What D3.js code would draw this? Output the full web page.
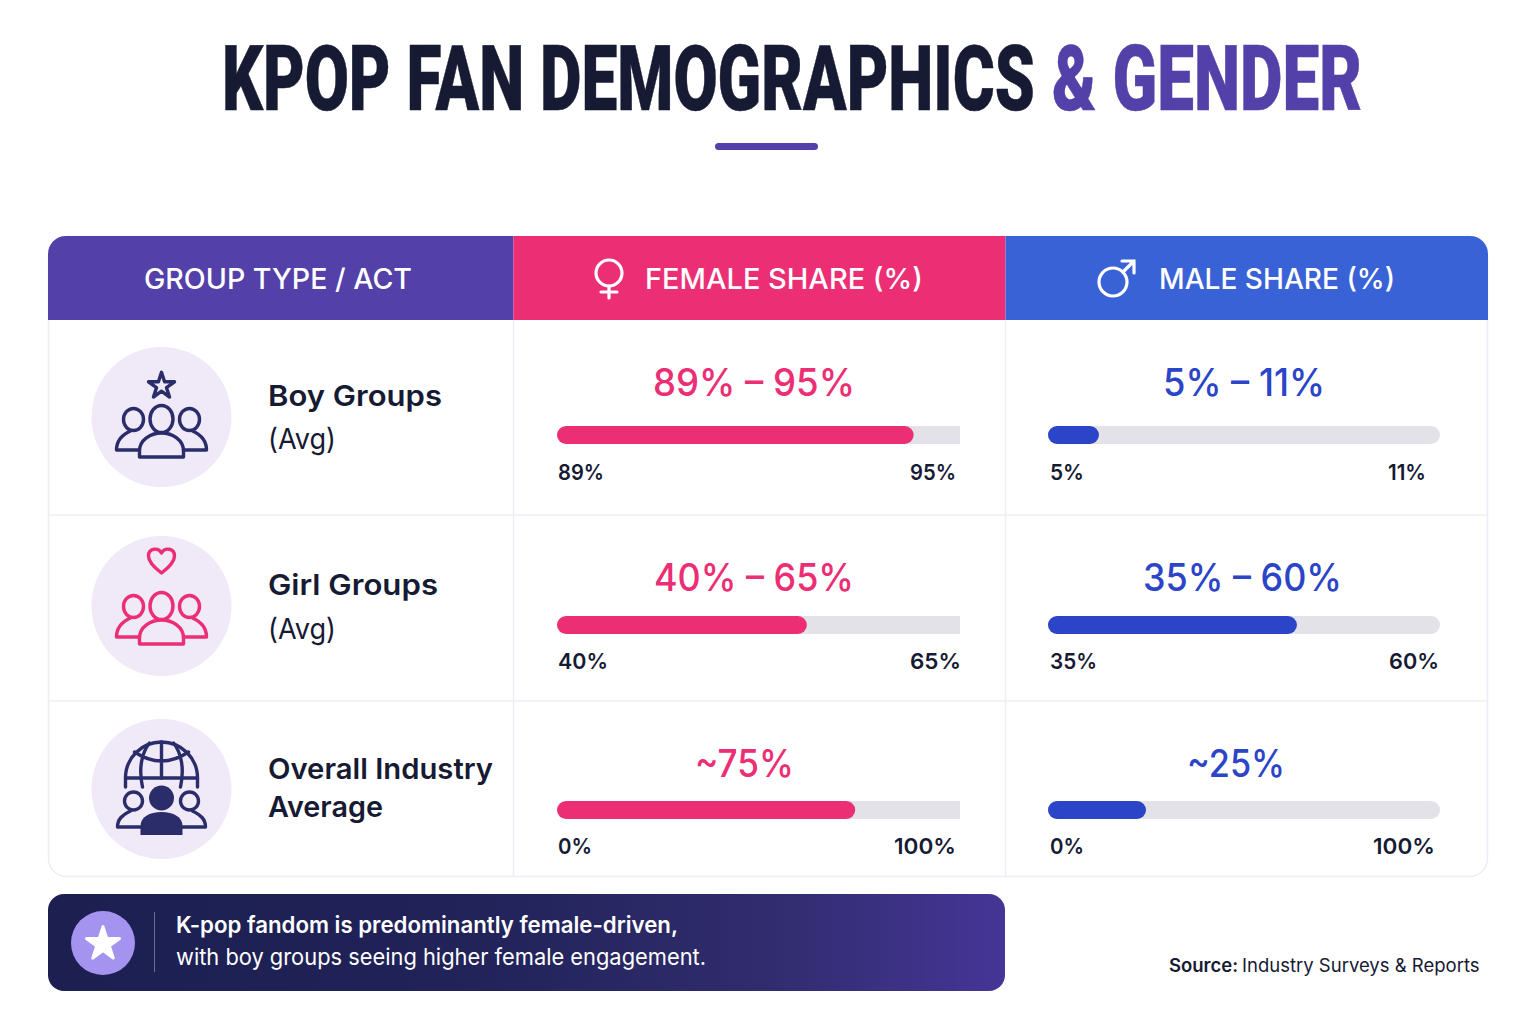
<!DOCTYPE html>
<html>
<head>
<meta charset="utf-8">
<script src="https://cdn.jsdelivr.net/npm/d3@7"></script>
<style>
  html, body { margin: 0; background: #fff; overflow: hidden; }
  text { font-family: Inter, "Noto Sans", sans-serif; }
</style>
</head>
<body>
<div id="chart"></div>
<script>
// data
const rowNames = [["Boy Groups", "(Avg)"], ["Girl Groups", "(Avg)"], ["Overall Industry", "Average"]];
const femaleLabels = ["89% – 95%", "40% – 65%", "~75%"];
const maleLabels = ["5% – 11%", "35% – 60%", "~25%"];
const femaleFill = [88.5, 62, 74];
const maleFill = [13, 63.5, 25];
const femaleTicks = [["89%", "95%"], ["40%", "65%"], ["0%", "100%"]];
const maleTicks = [["5%", "11%"], ["35%", "60%"], ["0%", "100%"]];
const headers = ["GROUP TYPE / ACT", "FEMALE SHARE (%)", "MALE SHARE (%)"];

// colours
const ink = "#161a33";
const purple = "#5340a8";
const pink = "#ec2e74";
const headerBlue = "#3a62d7";
const blue = "#2b44c8";
const track = "#e3e2e8";
const line = "#eeecf4";
const iconInk = "#2b2d6b";

// layout
const tableLeft = 48, tableRight = 1488, tableTop = 236, tableBottom = 877, headerBottom = 320;
const col1 = 513.5, col2 = 1005.5;
const rowLines = [515, 701];
const iconY = [417, 606, 789];
const nameY = [[406, 449], [595, 639], [779, 817]];
const nameW = [[174, 68], [170, 68], [225, 115]];
const valueY = [396, 591, 777];
const barY = [426, 616, 801];
const tickY = [480, 669, 854];
const barH = 18;
const femaleX = [653, 654, 695];
const femaleW = [202, 200, 99];
const maleX = [1163, 1143, 1187];
const maleW = [162, 199, 98];
const femaleTickW = [[46, 46], [50, 51], [34, 62]];
const maleTickW = [[34, 38], [47, 50], [34, 62]];
const femaleTickEnd = [956, 961, 956];
const maleTickEnd = [1426, 1439, 1435];

const xFemale = d3.scaleLinear().domain([0, 100]).range([557, 960]);
const xMale = d3.scaleLinear().domain([0, 100]).range([1048, 1440]);

const svg = d3.select("#chart").append("svg").attr("width", 1536).attr("height", 1024);
const defs = svg.append("defs");

// stretch a text to the width it has in the picture
function fit(sel, w) {
  sel.attr("textLength", w).attr("lengthAdjust", "spacingAndGlyphs");
}

// title, squeezed with a transform so it looks condensed
function titlePart(str, x, w, color) {
  const t = svg.append("text").attr("y", 0).attr("fill", color).attr("stroke", color).attr("stroke-width", 0.5)
    .attr("font-size", 90.5).attr("font-weight", 900)
    .style("font-family", "Roboto").text(str);
  const len = t.node().getComputedTextLength();
  t.attr("transform", `translate(${x},110) scale(${w / len},1)`);
}
titlePart("KPOP FAN DEMOGRAPHICS", 222, 813, ink);
titlePart("& GENDER", 1052, 310, purple);
svg.append("rect").attr("x", 715).attr("y", 143).attr("width", 103).attr("height", 7)
  .attr("rx", 3.5).attr("fill", purple);

// table
defs.append("clipPath").attr("id", "tableClip").append("rect")
  .attr("x", tableLeft).attr("y", tableTop)
  .attr("width", tableRight - tableLeft).attr("height", tableBottom - tableTop).attr("rx", 18);

svg.append("rect").attr("x", tableLeft + 0.5).attr("y", tableTop + 0.5)
  .attr("width", tableRight - tableLeft - 1).attr("height", tableBottom - tableTop - 1)
  .attr("rx", 18).attr("fill", "none").attr("stroke", line).attr("stroke-width", 1.5);

const table = svg.append("g").attr("clip-path", "url(#tableClip)");
table.append("rect").attr("x", tableLeft).attr("y", tableTop)
  .attr("width", col1 - tableLeft).attr("height", headerBottom - tableTop).attr("fill", purple);
table.append("rect").attr("x", col1).attr("y", tableTop)
  .attr("width", col2 - col1).attr("height", headerBottom - tableTop).attr("fill", pink);
table.append("rect").attr("x", col2).attr("y", tableTop)
  .attr("width", tableRight - col2).attr("height", headerBottom - tableTop).attr("fill", headerBlue);

[col1, col2].forEach((x) => {
  svg.append("line").attr("x1", x).attr("x2", x).attr("y1", headerBottom).attr("y2", tableBottom)
    .attr("stroke", line).attr("stroke-width", 1.5);
});
rowLines.forEach((y) => {
  svg.append("line").attr("x1", tableLeft).attr("x2", tableRight).attr("y1", y).attr("y2", y)
    .attr("stroke", line).attr("stroke-width", 1.5);
});

// header texts
const headerX = [144, 645, 1159];
const headerW = [268, 278, 236];
headers.forEach((h, i) => {
  svg.append("text").attr("x", headerX[i]).attr("y", 289).attr("fill", "#fff")
    .attr("font-size", 28).attr("font-weight", 500).text(h).call(fit, headerW[i]);
});

// gender symbols
const female = svg.append("g").attr("transform", "translate(609,273)")
  .attr("fill", "none").attr("stroke", "#fff").attr("stroke-width", 3.2).attr("stroke-linecap", "round");
female.append("circle").attr("r", 13);
female.append("path").attr("d", "M0,13V25M-8,19H8");

const male = svg.append("g").attr("transform", "translate(1113,282)")
  .attr("fill", "none").attr("stroke", "#fff").attr("stroke-width", 3.2).attr("stroke-linecap", "round");
male.append("circle").attr("r", 14);
male.append("path").attr("d", "M10,-10L21,-21M9,-21H21V-9");

// icons
function crowd(g) {
  g.append("ellipse").attr("cx", 0).attr("cy", 2).attr("rx", 11.5).attr("ry", 13.5);
  g.append("ellipse").attr("cx", -28).attr("cy", 2.5).attr("rx", 10).attr("ry", 11);
  g.append("ellipse").attr("cx", 28).attr("cy", 2.5).attr("rx", 10).attr("ry", 11);
  g.append("path").attr("d", "M-22,40V34C-22,23 -11,16 0,16C11,16 22,23 22,34V40Z");
  g.append("path").attr("d", "M-22,33H-45C-45,24 -40,18 -31,14M22,33H45C45,24 40,18 31,14");
}

function drawIcon(i) {
  const g = svg.append("g").attr("transform", `translate(161.5,${iconY[i]})`);
  g.append("circle").attr("r", 70).attr("fill", "#f0e9f8");
  const color = i === 1 ? pink : iconInk;
  const s = g.append("g").attr("fill", "none").attr("stroke", color)
    .attr("stroke-width", 3.4).attr("stroke-linejoin", "round").attr("stroke-linecap", "round");
  if (i === 0) {
    s.append("path").attr("d", d3.symbol().type(d3.symbolStar).size(210)())
      .attr("transform", "translate(0,-31)");
    crowd(s);
  } else if (i === 1) {
    s.append("path").attr("d", "M0,-22C-8,-28 -13,-33 -13,-39C-13,-47 -3,-48 0,-42C3,-48 13,-47 13,-39C13,-33 8,-28 0,-22Z")
      .attr("transform", "translate(0,-11)");
    crowd(s.append("g").attr("transform", "translate(0,-2)"));
  } else {
    // globe over people
    s.append("path").attr("d", "M-36,-2V-11A36,36 0 0 1 36,-11V-2");
    s.append("path").attr("d", "M-36,-11H36");
    s.append("path").attr("d", "M-27,-37Q0,-19 27,-37M-12,-46C-20,-36 -23,-20 -19,-2M12,-46C20,-36 23,-20 19,-2M0,-47V-11");
    s.append("circle").attr("cx", -28).attr("cy", 12).attr("r", 9);
    s.append("circle").attr("cx", 28).attr("cy", 12).attr("r", 9);
    s.append("path").attr("d", "M-21,38H-44C-44,30 -39,26 -31,22M21,38H44C44,30 39,26 31,22");
    g.append("circle").attr("cy", 9).attr("r", 12.5).attr("fill", color);
    g.append("path").attr("fill", color)
      .attr("d", "M-21,46V37C-21,28 -12,23 0,23C12,23 21,28 21,37V46Z");
  }
}

// rows
rowNames.forEach((name, i) => {
  drawIcon(i);

  const overall = i === 2;
  svg.append("text").attr("x", 268).attr("y", nameY[i][0]).attr("fill", ink)
    .attr("font-size", 29).attr("font-weight", 600).text(name[0]).call(fit, nameW[i][0]);
  svg.append("text").attr("x", 268).attr("y", nameY[i][1]).attr("fill", ink)
    .attr("font-size", 29).attr("font-weight", overall ? 600 : 400).text(name[1]).call(fit, nameW[i][1]);

  // female
  svg.append("text").attr("x", femaleX[i]).attr("y", valueY[i]).attr("fill", pink)
    .attr("font-size", 38).attr("font-weight", 500).text(femaleLabels[i]).call(fit, femaleW[i]);
  svg.append("rect").attr("x", xFemale(0) + 9).attr("y", barY[i])
    .attr("width", xFemale(100) - xFemale(0) - 9).attr("height", barH).attr("fill", track);
  svg.append("rect").attr("x", xFemale(0)).attr("y", barY[i])
    .attr("width", xFemale(femaleFill[i]) - xFemale(0)).attr("height", barH).attr("rx", 9).attr("fill", pink);
  svg.append("text").attr("x", 558).attr("y", tickY[i]).attr("fill", ink)
    .attr("font-size", 22).attr("font-weight", 600).text(femaleTicks[i][0]).call(fit, femaleTickW[i][0]);
  svg.append("text").attr("x", femaleTickEnd[i] - femaleTickW[i][1]).attr("y", tickY[i]).attr("fill", ink)
    .attr("font-size", 22).attr("font-weight", 600).text(femaleTicks[i][1]).call(fit, femaleTickW[i][1]);

  // male
  svg.append("text").attr("x", maleX[i]).attr("y", valueY[i]).attr("fill", blue)
    .attr("font-size", 38).attr("font-weight", 500).text(maleLabels[i]).call(fit, maleW[i]);
  svg.append("rect").attr("x", xMale(0)).attr("y", barY[i])
    .attr("width", xMale(100) - xMale(0)).attr("height", barH).attr("rx", 9).attr("fill", track);
  svg.append("rect").attr("x", xMale(0)).attr("y", barY[i])
    .attr("width", xMale(maleFill[i]) - xMale(0)).attr("height", barH).attr("rx", 9).attr("fill", blue);
  svg.append("text").attr("x", 1050).attr("y", tickY[i]).attr("fill", ink)
    .attr("font-size", 22).attr("font-weight", 600).text(maleTicks[i][0]).call(fit, maleTickW[i][0]);
  svg.append("text").attr("x", maleTickEnd[i] - maleTickW[i][1]).attr("y", tickY[i]).attr("fill", ink)
    .attr("font-size", 22).attr("font-weight", 600).text(maleTicks[i][1]).call(fit, maleTickW[i][1]);
});

// callout
const grad = defs.append("linearGradient").attr("id", "calloutGrad");
grad.append("stop").attr("offset", "0%").attr("stop-color", "#1c1f50");
grad.append("stop").attr("offset", "45%").attr("stop-color", "#212359");
grad.append("stop").attr("offset", "75%").attr("stop-color", "#312c6e");
grad.append("stop").attr("offset", "100%").attr("stop-color", "#453596");
svg.append("rect").attr("x", 48).attr("y", 894).attr("width", 957).attr("height", 97)
  .attr("rx", 16).attr("fill", "url(#calloutGrad)");
svg.append("circle").attr("cx", 103).attr("cy", 943).attr("r", 32).attr("fill", "#a594ef");
svg.append("path").attr("d", d3.symbol().type(d3.symbolStar).size(340)())
  .attr("transform", "translate(103,944)").attr("fill", "#fff")
  .attr("stroke", "#fff").attr("stroke-width", 3).attr("stroke-linejoin", "round");
svg.append("line").attr("x1", 154.5).attr("x2", 154.5).attr("y1", 912).attr("y2", 972)
  .attr("stroke", "#fff").attr("stroke-opacity", 0.35);
svg.append("text").attr("x", 176).attr("y", 933).attr("fill", "#fff")
  .attr("font-size", 22.5).attr("font-weight", 600)
  .text("K-pop fandom is predominantly female-driven,").call(fit, 502);
svg.append("text").attr("x", 176).attr("y", 965).attr("fill", "#fff")
  .attr("font-size", 22.5).attr("font-weight", 400)
  .text("with boy groups seeing higher female engagement.").call(fit, 530);

// source
svg.append("text").attr("x", 1169).attr("y", 972).attr("fill", ink)
  .attr("font-size", 18.5).attr("font-weight", 600).text("Source:");
svg.append("text").attr("x", 1242).attr("y", 972).attr("fill", ink)
  .attr("font-size", 18.5).text("Industry Surveys & Reports");
</script>
</body>
</html>
